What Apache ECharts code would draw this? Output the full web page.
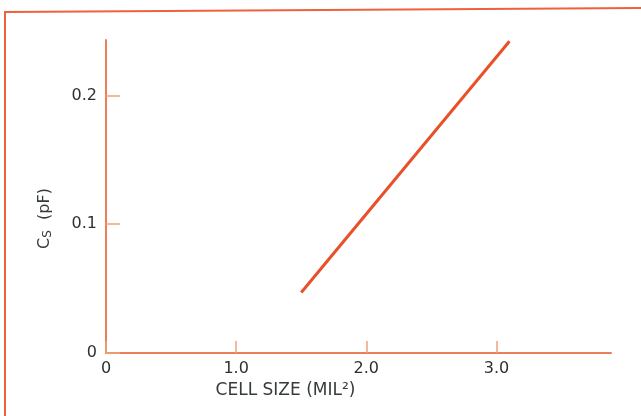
<!DOCTYPE html>
<html><head><meta charset="utf-8">
<script src="https://cdn.jsdelivr.net/npm/echarts@6/dist/echarts.min.js"></script>
<style>html,body{margin:0;padding:0;background:#fff}#c{width:641px;height:416px}</style>
</head><body><div id="c"></div>
<script>
// Data
const cellSize = [1.5, 3.1];          // MIL^2
const capacitance = [0.047, 0.242];   // pF
const xTickValues = [0, 1, 2, 3];
const xTickLabels = ['0', '1.0', '2.0', '3.0'];
const yTickValues = [0, 0.1, 0.2];
const yTickLabels = ['0', '0.1', '0.2'];

const chart = echarts.init(document.getElementById('c'), null, {renderer: 'canvas'});
const axisColor = '#ea7d5a';
const tickColor = '#f0a27a';
const textColor = '#2a332e';
const nameColor = '#353b37';
const font = '"DejaVu Sans", sans-serif';

chart.setOption({
  animation: false,
  backgroundColor: '#ffffff',
  grid: {left: 106, right: 30, top: 40, bottom: 63},
  graphic: [
    {type: 'line', shape: {x1: 5, y1: 12, x2: 641, y2: 8}, style: {stroke: '#f0603a', lineWidth: 2}},
    {type: 'line', shape: {x1: 5, y1: 11, x2: 5, y2: 416}, style: {stroke: '#f0603a', lineWidth: 2}}
  ],
  xAxis: {
    type: 'value', min: 0, max: 3.88,
    splitLine: {show: false},
    axisLine: {show: true, lineStyle: {color: axisColor, width: 2}},
    axisTick: {show: true, inside: true, length: 12, customValues: xTickValues, lineStyle: {color: tickColor, width: 1.5}},
    axisLabel: {
      customValues: xTickValues, margin: 8,
      formatter: v => xTickLabels[xTickValues.indexOf(v)] ?? '',
      color: textColor, fontFamily: font, fontSize: 16
    },
    name: 'CELL SIZE (MIL²)', nameLocation: 'middle', nameGap: 28,
    nameTextStyle: {color: nameColor, fontFamily: font, fontSize: 17, padding: [0, 146, 0, 0]}
  },
  yAxis: {
    type: 'value', min: 0, max: 0.243,
    splitLine: {show: false},
    axisLine: {show: true, lineStyle: {color: axisColor, width: 2}},
    axisTick: {show: true, inside: true, length: 14, customValues: yTickValues, lineStyle: {color: tickColor, width: 1.5}},
    axisLabel: {
      customValues: yTickValues, margin: 9,
      formatter: v => yTickLabels[yTickValues.indexOf(v)] ?? '',
      color: textColor, fontFamily: font, fontSize: 16
    },
    name: 'C{s|S}  (pF)', nameLocation: 'middle', nameRotate: 90, nameGap: 52,
    nameTextStyle: {
      color: nameColor, fontFamily: font, fontSize: 16, padding: [0, 44, 0, 0],
      rich: {s: {fontSize: 12, fontFamily: font, color: nameColor, verticalAlign: 'bottom', padding: [7, 0, 0, 0]}}
    }
  },
  series: [{
    type: 'line',
    data: cellSize.map((x, i) => [x, capacitance[i]]),
    showSymbol: false,
    lineStyle: {color: '#e8502a', width: 3},
    silent: true
  }]
});
</script></body></html>
